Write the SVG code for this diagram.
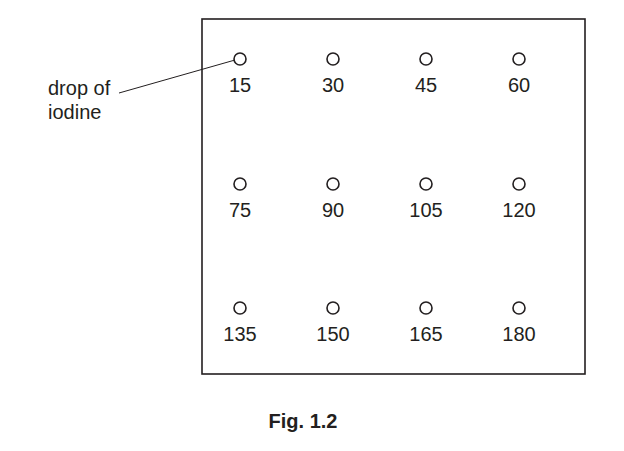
<svg xmlns="http://www.w3.org/2000/svg" width="624" height="451" viewBox="0 0 624 451">
<style>
.t{font-family:"Liberation Sans",Arial,sans-serif;font-size:20px;fill:#231f20}
.n{text-anchor:middle}
.d{fill:none;stroke:#231f20;stroke-width:1.6}
</style>
<rect width="624" height="451" fill="#fff"/>
<rect x="202" y="19" width="383" height="355" fill="none" stroke="#231f20" stroke-width="1.6"/>
<g id="connectors"><line x1="119" y1="93" x2="235" y2="60" stroke="#231f20" stroke-width="1"/></g>
<g id="label"><text class="t" x="48" y="95">drop of</text><text class="t" x="48" y="119">iodine</text></g>
<g id="r1"><circle class="d" cx="240" cy="59" r="6"/><text class="t n" x="240" y="92">15</text>
<circle class="d" cx="333" cy="59" r="6"/><text class="t n" x="333" y="92">30</text>
<circle class="d" cx="426" cy="59" r="6"/><text class="t n" x="426" y="92">45</text>
<circle class="d" cx="519" cy="59" r="6"/><text class="t n" x="519" y="92">60</text></g>
<g id="r2"><circle class="d" cx="240" cy="184" r="6"/><text class="t n" x="240" y="217">75</text>
<circle class="d" cx="333" cy="184" r="6"/><text class="t n" x="333" y="217">90</text>
<circle class="d" cx="426" cy="184" r="6"/><text class="t n" x="426" y="217">105</text>
<circle class="d" cx="519" cy="184" r="6"/><text class="t n" x="519" y="217">120</text></g>
<g id="r3"><circle class="d" cx="240" cy="308" r="6"/><text class="t n" x="240" y="341">135</text>
<circle class="d" cx="333" cy="308" r="6"/><text class="t n" x="333" y="341">150</text>
<circle class="d" cx="426" cy="308" r="6"/><text class="t n" x="426" y="341">165</text>
<circle class="d" cx="519" cy="308" r="6"/><text class="t n" x="519" y="341">180</text></g>
<text class="t n" x="303" y="428" font-weight="bold" font-size="19">Fig. 1.2</text>
</svg>
